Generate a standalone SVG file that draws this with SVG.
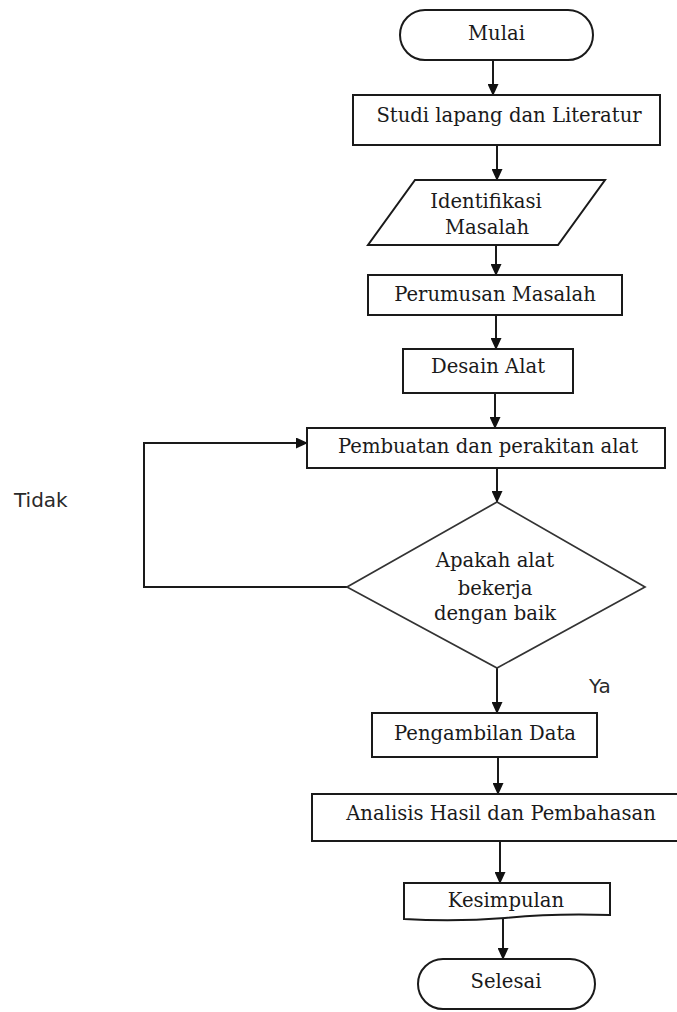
<svg xmlns="http://www.w3.org/2000/svg" width="677" height="1012" viewBox="0 0 677 1012">
<defs>
<style>
.shape{fill:#fff;stroke:#1a1a1a;stroke-width:2}
.dia{fill:#fff;stroke:#333;stroke-width:1.7}
.lbl{font-family:"DejaVu Serif","Liberation Serif",serif;font-size:19.6px;fill:#1a1a1a;text-anchor:middle}
.side{font-family:"DejaVu Sans","Liberation Sans",sans-serif;font-size:20px;fill:#2a2a2a}
.conn{fill:none;stroke:#1a1a1a;stroke-width:2}
</style>
<marker id="ah" markerWidth="12" markerHeight="11" refX="11" refY="5.5" orient="auto" markerUnits="userSpaceOnUse">
<path d="M0,0 L12,5.5 L0,11 Z" fill="#111"/>
</marker>
</defs>
<rect width="677" height="1012" fill="#fff"/>

<g id="connectors">
<line class="conn" x1="493" y1="60" x2="493" y2="95" marker-end="url(#ah)"/>
<line class="conn" x1="497" y1="145" x2="497" y2="180" marker-end="url(#ah)"/>
<line class="conn" x1="496" y1="245" x2="496" y2="275" marker-end="url(#ah)"/>
<line class="conn" x1="496" y1="315" x2="496" y2="349" marker-end="url(#ah)"/>
<line class="conn" x1="495" y1="393" x2="495" y2="428" marker-end="url(#ah)"/>
<line class="conn" x1="497" y1="468" x2="497" y2="502" marker-end="url(#ah)"/>
<polyline class="conn" points="347,587 144,587 144,443 307,443" marker-end="url(#ah)"/>
<line class="conn" x1="497" y1="668" x2="497" y2="713" marker-end="url(#ah)"/>
<line class="conn" x1="498" y1="757" x2="498" y2="794" marker-end="url(#ah)"/>
<line class="conn" x1="500" y1="841" x2="500" y2="883" marker-end="url(#ah)"/>
<line class="conn" x1="503" y1="918" x2="503" y2="959" marker-end="url(#ah)"/>
</g>

<g id="mulai">
<rect class="shape" x="400" y="10" width="193" height="50" rx="25" ry="25"/>
<text class="lbl" x="496.5" y="40">Mulai</text>
</g>
<g id="studi">
<rect class="shape" x="353" y="95" width="307" height="50"/>
<text class="lbl" x="509" y="122">Studi lapang dan Literatur</text>
</g>
<g id="identifikasi">
<polygon class="shape" points="415,180 605,180 558,245 368,245"/>
<text class="lbl" x="486" y="208">Identifikasi</text>
<text class="lbl" x="487" y="234">Masalah</text>
</g>
<g id="perumusan">
<rect class="shape" x="368" y="275" width="254" height="40"/>
<text class="lbl" x="495" y="301">Perumusan Masalah</text>
</g>
<g id="desain">
<rect class="shape" x="403" y="349" width="170" height="44"/>
<text class="lbl" x="488" y="373">Desain Alat</text>
</g>
<g id="pembuatan">
<rect class="shape" x="307" y="428" width="358" height="40"/>
<text class="lbl" x="488" y="453">Pembuatan dan perakitan alat</text>
</g>
<g id="keputusan">
<polygon class="dia" points="497,502 645,587 497,668 347,587"/>
<text class="lbl" x="495" y="567">Apakah alat</text>
<text class="lbl" x="495" y="595">bekerja</text>
<text class="lbl" x="495" y="620">dengan baik</text>
</g>
<g id="label-tidak">
<text class="side" x="14" y="507">Tidak</text>
</g>
<g id="label-ya">
<text class="side" x="589" y="693">Ya</text>
</g>
<g id="pengambilan">
<rect class="shape" x="372" y="713" width="225" height="44"/>
<text class="lbl" x="485" y="740">Pengambilan Data</text>
</g>
<g id="analisis">
<rect class="shape" x="312" y="794" width="380" height="47"/>
<text class="lbl" x="501" y="820">Analisis Hasil dan Pembahasan</text>
</g>
<g id="kesimpulan">
<path class="shape" d="M404,883 H610 V915 Q555,913 505,918 Q455,922 404,919 Z"/>
<text class="lbl" x="506" y="907">Kesimpulan</text>
</g>
<g id="selesai">
<rect class="shape" x="418" y="959" width="177" height="50" rx="25" ry="25"/>
<text class="lbl" x="506" y="988">Selesai</text>
</g>
</svg>
